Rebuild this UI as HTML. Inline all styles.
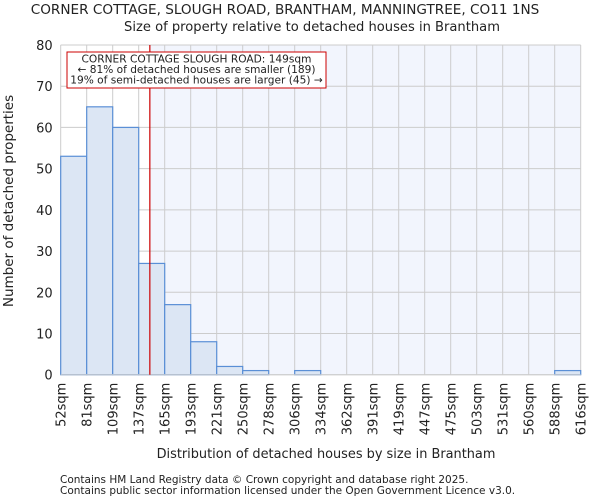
<!DOCTYPE html>
<html><head><meta charset="utf-8"><style>
body{margin:0;background:#fff;font-family:"DejaVu Sans","Liberation Sans",sans-serif}
svg text{font-family:"DejaVu Sans","Liberation Sans",sans-serif;fill:#222}
</style></head><body>
<svg id="c" width="600" height="500">
<text x="285" y="14" font-size="13.6" text-anchor="middle">CORNER COTTAGE, SLOUGH ROAD, BRANTHAM, MANNINGTREE, CO11 1NS</text>
<text x="312" y="31" font-size="13.1" text-anchor="middle">Size of property relative to detached houses in Brantham</text>
<g id="plot"></g>
<text x="326" y="458" font-size="12.9" text-anchor="middle">Distribution of detached houses by size in Brantham</text>
<text transform="translate(13,201) rotate(-90)" font-size="13.5" text-anchor="middle">Number of detached properties</text>
<text x="60" y="483" font-size="10.5">Contains HM Land Registry data © Crown copyright and database right 2025.</text>
<text x="60" y="494" font-size="10.5">Contains public sector information licensed under the Open Government Licence v3.0.</text>
</svg>
<script>
const binLabels=["52sqm","81sqm","109sqm","137sqm","165sqm","193sqm","221sqm","250sqm","278sqm","306sqm","334sqm","362sqm","391sqm","419sqm","447sqm","475sqm","503sqm","531sqm","560sqm","588sqm","616sqm"];
const binEdges=[52,81,109,137,165,193,221,250,278,306,334,362,391,419,447,475,503,531,560,588,616];
const counts=[53,65,60,27,17,8,2,1,0,1,0,0,0,0,0,0,0,0,0,1];
const yTicks=[0,10,20,30,40,50,60,70,80];
const markerValue=149;
const L=60.7,R=580.7,T=45,B=374.7;
const NS="http://www.w3.org/2000/svg";
const g=document.getElementById('plot');
function y(v){return B-(v/80)*(B-T);}
function xi(i){return L+i*(R-L)/(binEdges.length-1);}
function xv(v){let i=0;while(i<binEdges.length-2&&v>binEdges[i+1])i++;return xi(i)+(v-binEdges[i])/(binEdges[i+1]-binEdges[i])*(xi(i+1)-xi(i));}
function mk(t,a){const e=document.createElementNS(NS,t);for(const k in a)e.setAttribute(k,a[k]);g.appendChild(e);return e;}
const mx=xv(markerValue);
let e=mk('rect',{x:mx,y:T,width:R-mx,height:B-T,fill:'#f2f5fd'});


yTicks.forEach(t=>{
 let l=mk('line',{x1:L,x2:R,y1:y(t),y2:y(t),stroke:'#ccc','stroke-width':1});
 
 
 let tx=mk('text',{x:L-8,y:y(t)+5,'text-anchor':'end','font-size':13});
 tx.textContent=t;
 
 
});
binLabels.forEach((lb,i)=>{
 let l=mk('line',{x1:xi(i),x2:xi(i),y1:T,y2:B,stroke:'#ccc','stroke-width':1});
 
 
 let tx=mk('text',{transform:`translate(${xi(i)+5},${B+8}) rotate(-90)`,'text-anchor':'end','font-size':13});
 tx.textContent=lb;
 
 
});
counts.forEach((c,i)=>{
 if(c<=0)return;
 let r=mk('rect',{x:xi(i),y:y(c),width:xi(i+1)-xi(i),height:B-y(c),fill:'#dce6f4',stroke:'#5a8fd6','stroke-width':1.2});
 
 
});
let ax=mk('line',{x1:L,x2:R,y1:B,y2:B,stroke:'#ccc'});


let ml=mk('line',{x1:mx,x2:mx,y1:T,y2:B,stroke:'#c00','stroke-width':1.2});


let bx=mk('rect',{x:67,y:52,width:259,height:36,fill:'#fff',stroke:'#c00','stroke-width':1});


["CORNER COTTAGE SLOUGH ROAD: 149sqm","← 81% of detached houses are smaller (189)","19% of semi-detached houses are larger (45) →"].forEach((s,i)=>{
 let t=mk('text',{x:196.5,y:62.5+i*10.5,'text-anchor':'middle','font-size':10.6});
 t.textContent=s;
 
 
});
</script>
</body></html>
